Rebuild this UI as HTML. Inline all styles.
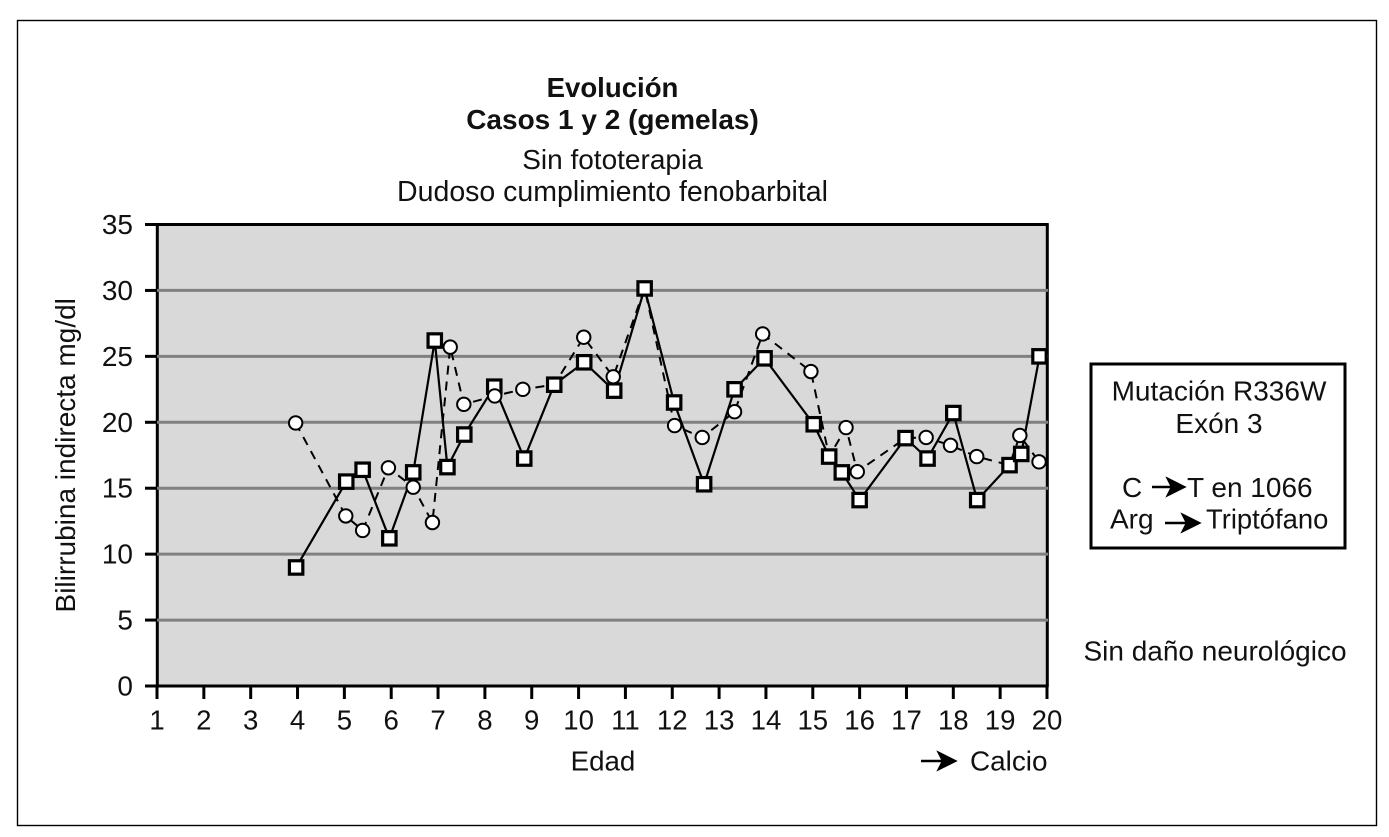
<!DOCTYPE html>
<html lang="es">
<head>
<meta charset="utf-8">
<title>Evolución Casos 1 y 2</title>
<style>
html,body{margin:0;padding:0;background:#fff;width:1389px;height:837px;overflow:hidden}
svg{display:block;font-family:"Liberation Sans",Arial,sans-serif;fill:#111}
text{fill:#111}
</style>
</head>
<body>
<svg id="chart" xmlns="http://www.w3.org/2000/svg" width="1389" height="837" viewBox="0 0 1389 837">
  <rect x="17.5" y="20.5" width="1359" height="805" fill="#fff" stroke="#000" stroke-width="1.4"/>
  <text x="612.5" y="97" text-anchor="middle" font-size="27.6" font-weight="bold">Evolución</text>
  <text x="612.5" y="129" text-anchor="middle" font-size="28" font-weight="bold">Casos 1 y 2 (gemelas)</text>
  <text x="612.5" y="169" text-anchor="middle" font-size="28">Sin fototerapia</text>
  <text x="612.5" y="201" text-anchor="middle" font-size="28.5">Dudoso cumplimiento fenobarbital</text>
  <rect x="157" y="224.5" width="890" height="461.5" fill="#d9d9d9"/>
  <g id="axes"></g>
  <g id="grid"></g>
  <g id="series"></g>
  <text transform="translate(75 455.3) rotate(-90)" text-anchor="middle" font-size="28">Bilirrubina indirecta mg/dl</text>
  <text x="603" y="770.5" text-anchor="middle" font-size="27.7">Edad</text>
  <g>
    <path d="M921 761H947M939 753L955 761L939 769L943 761Z" stroke="#000" stroke-width="2.4" fill="#000"/>
    <text x="970" y="770.5" font-size="27.9">Calcio</text>
  </g>
  <g>
    <rect x="1091" y="364" width="254" height="184" fill="#fff" stroke="#000" stroke-width="3"/>
    <text x="1219" y="400.5" text-anchor="middle" font-size="28">Mutación R336W</text>
    <text x="1219" y="433" text-anchor="middle" font-size="28">Exón 3</text>
    <text x="1122" y="497" font-size="28">C</text>
    <path d="M1152 487H1175M1168 479L1184 487L1168 495L1172 487Z" stroke="#000" stroke-width="2.4" fill="#000"/>
    <text x="1187" y="497" font-size="28">T en 1066</text>
    <text x="1110" y="528.5" font-size="28">Arg</text>
    <path d="M1165 523H1190M1183 515L1199 523L1183 531L1187 523Z" stroke="#000" stroke-width="2.4" fill="#000"/>
    <text x="1206" y="528.5" font-size="27.4">Triptófano</text>
  </g>
  <text x="1215" y="660.5" text-anchor="middle" font-size="28">Sin daño neurológico</text>
</svg>
<script>
const xTickLabels = [1,2,3,4,5,6,7,8,9,10,11,12,13,14,15,16,17,18,19,20];
const yTickLabels = [0,5,10,15,20,25,30,35];

const squareAges = [3.97,5.04,5.39,5.96,6.47,6.93,7.2,7.56,8.2,8.84,9.48,10.12,10.76,11.41,12.04,12.68,13.33,13.97,15.02,15.35,15.62,16.0,16.98,17.45,18.0,18.51,19.2,19.45,19.84];
const squareValues = [8.99,15.5,16.4,11.2,16.2,26.2,16.6,19.07,22.7,17.25,22.85,24.55,22.4,30.15,21.5,15.3,22.5,24.85,19.85,17.4,16.2,14.1,18.8,17.25,20.7,14.1,16.75,17.6,25];

const circleAges = [3.96,5.03,5.39,5.94,6.47,6.88,7.26,7.55,8.21,8.81,9.48,10.11,10.74,11.41,12.05,12.64,13.33,13.93,14.96,15.35,15.71,15.95,16.98,17.42,17.94,18.5,19.2,19.42,19.83];
const circleValues = [19.95,12.9,11.8,16.55,15.08,12.4,25.7,21.36,22.0,22.5,22.85,26.45,23.45,30.15,19.75,18.85,20.8,26.7,23.85,17.4,19.6,16.25,18.8,18.85,18.25,17.4,16.75,19.0,17];
const circleMarkerVisible = [true,true,true,true,true,true,true,true,true,true,false,true,true,false,true,true,true,true,true,false,true,true,false,true,true,true,false,true,true];

const NS = 'http://www.w3.org/2000/svg';
function xScale(v){ return 157 + (v - 1) * (890 / 19); }
function yScale(v){ return 686 - v * (461.5 / 35); }
function make(parent, tag, attrs){
  const el = document.createElementNS(NS, tag);
  for (const k in attrs) el.setAttribute(k, attrs[k]);
  parent.appendChild(el);
  return el;
}
const gridG = document.getElementById('grid');
const axesG = document.getElementById('axes');
const seriesG = document.getElementById('series');

const topLine = make(axesG, 'line', {x1:157, x2:1048.7, y1:224.5, y2:224.5, stroke:'#000', 'stroke-width':3});


const rightLine = make(axesG, 'line', {x1:1047.3, x2:1047.3, y1:224.5, y2:686, stroke:'#000', 'stroke-width':3});


const yAxis = make(axesG, 'line', {x1:157.3, x2:157.3, y1:223, y2:687.5, stroke:'#000', 'stroke-width':3});


const xAxis = make(axesG, 'line', {x1:145, x2:1048.7, y1:686, y2:686, stroke:'#000', 'stroke-width':3});



yTickLabels.forEach(function(t){
  if (t > 0 && t < 35) {
    const g = make(gridG, 'line', {x1:157, x2:1048, y1:yScale(t), y2:yScale(t), stroke:'#808080', 'stroke-width':3});
    
    
  }
});

yTickLabels.forEach(function(t){
  const y = yScale(t);
  const tick = make(axesG, 'line', {x1:145, x2:157, y1:y, y2:y, stroke:'#000', 'stroke-width':3});
  
  
  const lab = make(axesG, 'text', {x:133, y:y + 9.5, 'text-anchor':'end', 'font-size':28});
  
  
  lab.textContent = t;
});
xTickLabels.forEach(function(t){
  const x = xScale(t);
  const tick = make(axesG, 'line', {x1:x, x2:x, y1:686, y2:699, stroke:'#000', 'stroke-width':3});
  
  
  const lab = make(axesG, 'text', {x:x, y:729.5, 'text-anchor':'middle', 'font-size':27.6});
  
  
  lab.textContent = t;
});

function linePoints(ages, values){
  return ages.map(function(a, i){ return xScale(a) + ',' + yScale(values[i]); }).join(' ');
}
const dashedLine = make(seriesG, 'polyline', {points:linePoints(circleAges, circleValues), fill:'none', stroke:'#000', 'stroke-width':2, 'stroke-dasharray':'9 7'});


const solidLine = make(seriesG, 'polyline', {points:linePoints(squareAges, squareValues), fill:'none', stroke:'#000', 'stroke-width':2.2});



squareAges.forEach(function(a, i){
  const cx = xScale(a), cy = yScale(squareValues[i]);
  const m = make(seriesG, 'rect', {x:cx - 6.7, y:cy - 6.7, width:13.4, height:13.4, fill:'#fff', stroke:'#000', 'stroke-width':3.2});
  
  
});
circleAges.forEach(function(a, i){
  if (!circleMarkerVisible[i]) return;
  const m = make(seriesG, 'circle', {cx:xScale(a), cy:yScale(circleValues[i]), r:6.7, fill:'#fff', stroke:'#000', 'stroke-width':2});
  
  
});
</script>
</body>
</html>
